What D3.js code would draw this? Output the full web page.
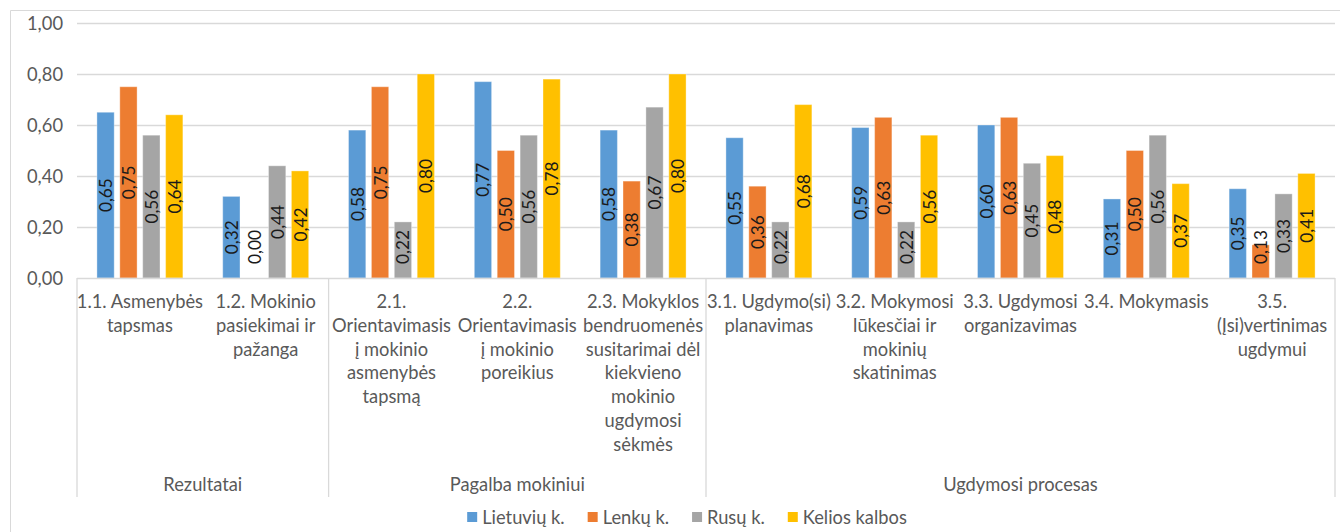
<!DOCTYPE html>
<html><head><meta charset="utf-8">
<script src="https://cdn.jsdelivr.net/npm/d3@7/dist/d3.min.js"></script>
<style>
body{margin:0;background:#fff}
svg{display:block}
text{font-family:Lato,"Open Sans",sans-serif}
</style></head>
<body><svg id="c" width="1340" height="532"></svg>
<script>
// ---- data ----
const categories = ["1.1","1.2","2.1","2.2","2.3","3.1","3.2","3.3","3.4","3.5"];
const categoryLines = [
  ["1.1. Asmenybės","tapsmas"],
  ["1.2. Mokinio","pasiekimai ir","pažanga"],
  ["2.1.","Orientavimasis","į mokinio","asmenybės","tapsmą"],
  ["2.2.","Orientavimasis","į mokinio","poreikius"],
  ["2.3. Mokyklos","bendruomenės","susitarimai dėl","kiekvieno","mokinio","ugdymosi","sėkmės"],
  ["3.1. Ugdymo(si)","planavimas"],
  ["3.2. Mokymosi","lūkesčiai ir","mokinių","skatinimas"],
  ["3.3. Ugdymosi","organizavimas"],
  ["3.4. Mokymasis"],
  ["3.5.","(Įsi)vertinimas","ugdymui"]
];
const groupNames = ["Rezultatai","Pagalba mokiniui","Ugdymosi procesas"];
const groupSizes = [2,3,5];
const seriesNames = ["Lietuvių k.","Lenkų k.","Rusų k.","Kelios kalbos"];
const seriesColors = ["#5B9BD5","#ED7D31","#A5A5A5","#FFC000"];
const lietuviu = [0.65,0.32,0.58,0.77,0.58,0.55,0.59,0.60,0.31,0.35];
const lenku    = [0.75,0.00,0.75,0.50,0.38,0.36,0.63,0.63,0.50,0.13];
const rusu     = [0.56,0.44,0.22,0.56,0.67,0.22,0.22,0.45,0.56,0.33];
const kelios   = [0.64,0.42,0.80,0.78,0.80,0.68,0.56,0.48,0.37,0.41];
const seriesValues = [lietuviu,lenku,rusu,kelios];
const yTicks = [0,0.2,0.4,0.6,0.8,1.0];

// ---- layout ----
const svg = d3.select("#c");
const L = 77, R = 1335, T = 23, B = 278;
const fmt = v => d3.format(".2f")(v).replace(".", ",");

function fitSize(str, target){
  const p = svg.append("text").attr("font-size",100).text(str);
  const w = p.node().getComputedTextLength();
  p.remove();
  return 100 * target / w;
}
const fs = fitSize("Orientavimasis", 119);
const fsNum = fitSize("0,65", 34);
const fsTick = fitSize("0,80", 36);

const x0 = d3.scaleBand().domain(categories).range([L,R]);
const x1 = d3.scaleBand().domain(seriesNames).range([0,x0.bandwidth()]).paddingInner(0.245).paddingOuter(0.87);
const y = d3.scaleLinear().domain([0,1]).range([B,T]);

// chart border (top and left visible)
svg.append("line").attr("x1",10.5).attr("x2",1340).attr("y1",10.5).attr("y2",10.5).attr("stroke","#D9D9D9");
svg.append("line").attr("x1",10.5).attr("x2",10.5).attr("y1",10.5).attr("y2",532).attr("stroke","#D9D9D9");

// gridlines
svg.append("g").selectAll("line").data(yTicks.filter(t=>t>0)).join("line")
  .attr("x1",L).attr("x2",R).attr("y1",d=>Math.round(y(d))+0.5).attr("y2",d=>Math.round(y(d))+0.5)
  .attr("stroke","#D9D9D9").attr("stroke-width",1.3);

// y axis labels
svg.append("g").selectAll("text").data(yTicks).join("text")
  .attr("x",63).attr("y",d=>y(d)).attr("text-anchor","end").attr("dominant-baseline","central")
  .attr("font-size",fsTick).attr("fill","#595959").text(fmt);

// bars
const gCat = svg.append("g").selectAll("g").data(categories).join("g")
  .attr("transform",d=>`translate(${x0(d)},0)`);
gCat.each(function(c,ci){
  const g = d3.select(this);
  seriesNames.forEach((s,si)=>{
    const v = seriesValues[si][ci];
    g.append("rect").attr("x",x1(s)).attr("width",x1.bandwidth())
      .attr("y",y(v)).attr("height",y(0)-y(v)).attr("fill",seriesColors[si])
      .attr("stroke","rgba(255,255,255,0.35)").attr("stroke-width",1);
  });
  seriesNames.forEach((s,si)=>{
    const v = seriesValues[si][ci];
    const cy = Math.min((y(v)+y(0))/2, y(0)-31);
    const cx = x1(s)+x1.bandwidth()/2;
    g.append("text").attr("transform",`translate(${cx},${cy}) rotate(-90)`)
      .attr("text-anchor","middle").attr("dominant-baseline","central")
      .attr("font-size",fsNum).attr("fill","#1a1a1a").text(fmt(v));
  });
});

// category axis line
svg.append("line").attr("x1",L).attr("x2",R).attr("y1",B+0.5).attr("y2",B+0.5).attr("stroke","#D9D9D9").attr("stroke-width",1.3);

// group dividers
let acc = 0;
const bounds = [0];
groupSizes.forEach(n=>{acc+=n;bounds.push(acc);});
svg.append("g").selectAll("line").data(bounds).join("line")
  .attr("x1",d=>d<categories.length?x0(categories[d]):R).attr("x2",d=>d<categories.length?x0(categories[d]):R)
  .attr("y1",B).attr("y2",497).attr("stroke","#D9D9D9").attr("stroke-width",1.3);

// category labels
categories.forEach((c,ci)=>{
  const t = svg.append("text").attr("x",x0(c)+x0.bandwidth()/2).attr("y",308)
    .attr("text-anchor","middle").attr("font-size",fs).attr("fill","#595959");
  categoryLines[ci].forEach((ln,li)=>{
    t.append("tspan").attr("x",x0(c)+x0.bandwidth()/2).attr("y",308+li*23.8).text(ln);
  });
});

// group labels
groupNames.forEach((gname,gi)=>{
  const a = x0(categories[bounds[gi]]);
  const b = bounds[gi+1]<categories.length ? x0(categories[bounds[gi+1]]) : R;
  svg.append("text").attr("x",(a+b)/2).attr("y",491).attr("text-anchor","middle")
    .attr("font-size",fs).attr("fill","#595959").text(gname);
});

// legend
const lg = svg.append("g");
let lx = 0;
seriesNames.forEach((s,si)=>{
  const it = lg.append("g").attr("transform",`translate(${lx},0)`);
  it.append("rect").attr("x",0).attr("y",-5).attr("width",10).attr("height",10).attr("fill",seriesColors[si]);
  const tx = it.append("text").attr("x",15).attr("y",0).attr("dominant-baseline","central")
    .attr("font-size",fs).attr("fill","#595959").text(s);
  lx += 15 + tx.node().getComputedTextLength() + 23;
});
const totalW = lx - 23;
lg.attr("transform",`translate(${687 - totalW/2},517)`);
</script></body></html>
